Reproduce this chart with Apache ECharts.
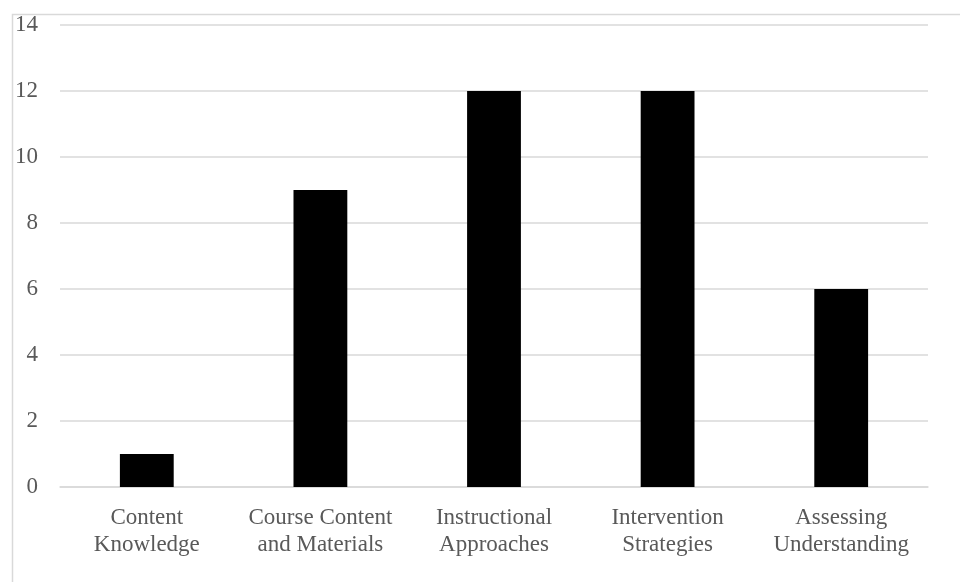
<!DOCTYPE html>
<html>
<head>
<meta charset="utf-8">
<script src="https://cdn.jsdelivr.net/npm/echarts@6/dist/echarts.min.js"></script>
<style>
  html, body { margin: 0; padding: 0; background: #fff; }
  #chart { width: 960px; height: 582px; }
</style>
</head>
<body>
<div id="chart"></div>
<script>
// Topic areas and number of responses in each
const categories = [
  'Content\nKnowledge',
  'Course Content\nand Materials',
  'Instructional\nApproaches',
  'Intervention\nStrategies',
  'Assessing\nUnderstanding'
];
const counts = [1, 9, 12, 12, 6];
const yTicks = { min: 0, max: 14, interval: 2 };

const chart = echarts.init(document.getElementById('chart'), null, { renderer: 'canvas' });
const font = '"Liberation Serif", "Times New Roman", serif';

chart.setOption({
  animation: false,
  backgroundColor: '#ffffff',
  graphic: [{
    type: 'rect',
    left: 10, top: 12,
    shape: { width: 980, height: 620 },
    style: { fill: 'none', stroke: '#d9d9d9', lineWidth: 1.5 },
    silent: true
  }],
  grid: { left: 60, right: 32, top: 25, bottom: 95, containLabel: false },
  xAxis: {
    type: 'category',
    data: categories,
    axisLine: { show: true, lineStyle: { color: '#d9d9d9', width: 1.5 } },
    axisTick: { show: false },
    axisLabel: {
      color: '#595959', fontFamily: font, fontSize: 23,
      lineHeight: 27, margin: 17, interval: 0
    }
  },
  yAxis: {
    type: 'value',
    min: yTicks.min, max: yTicks.max, interval: yTicks.interval,
    axisLine: { show: false },
    axisTick: { show: false },
    splitLine: { lineStyle: { color: '#d9d9d9', width: 1.5 } },
    axisLabel: { color: '#595959', fontFamily: font, fontSize: 23, margin: 22 }
  },
  series: [{
    type: 'bar',
    data: counts,
    barWidth: '31%',
    itemStyle: { color: '#000000' }
  }]
});
</script>
</body>
</html>
